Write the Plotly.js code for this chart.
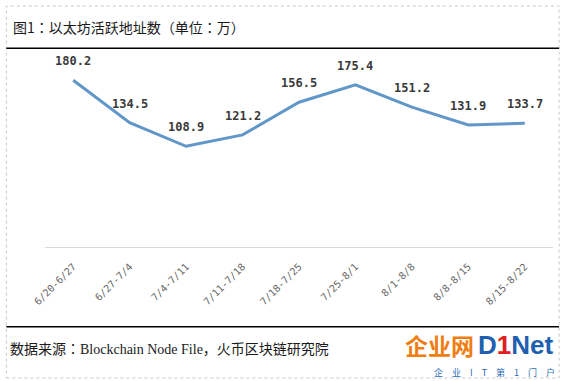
<!DOCTYPE html>
<html><head><meta charset="utf-8">
<script src="https://cdn.plot.ly/plotly-3.0.1.min.js"></script>
<style>html,body{margin:0;padding:0;background:#fff}#c{width:565px;height:381px}</style>
</head><body><div id="c"></div>
<script>
var categories = ["6/20-6/27","6/27-7/4","7/4-7/11","7/11-7/18","7/18-7/25","7/25-8/1","8/1-8/8","8/8-8/15","8/15-8/22"];
var values = [180.2, 134.5, 108.9, 121.2, 156.5, 175.4, 151.2, 131.9, 133.7];
var valueLabels = ["180.2","134.5","108.9","121.2","156.5","175.4","151.2","131.9","133.7"];

var trace = {
  x: categories, y: values, type: 'scatter', mode: 'lines',
  line: {color: '#6197c8', width: 3}, hoverinfo: 'none'
};

var anns = categories.map(function(c, i){
  return {x: c, y: values[i], xref: 'x', yref: 'y', text: valueLabels[i], showarrow: false,
    yshift: 19, font: {family: 'DejaVu Sans Mono, monospace', size: 12, color: '#3a3a3a', weight: 'bold'}};
});

var layout = {
  width: 565, height: 381,
  margin: {l: 45, r: 12, t: 62, b: 134},
  paper_bgcolor: '#fff', plot_bgcolor: '#fff',
  showlegend: false,
  xaxis: {type: 'category', range: [-0.5, 8.5], showgrid: false, zeroline: false, showline: true,
    linecolor: '#d9d9d9', linewidth: 1, ticks: '', tickangle: -45, ticklabelstandoff: 9,
    tickfont: {family: 'DejaVu Sans Mono, monospace', size: 10, color: '#666666'}, fixedrange: true},
  yaxis: {range: [0, 200], showgrid: false, zeroline: false, showticklabels: false, showline: false, fixedrange: true},
  shapes: [
    {type:'rect', xref:'paper', yref:'paper', x0:-0.0760, x1:1.0120, y0:-0.7080, y1:1.3027, line:{color:'#c8c8c8', width:1, dash:'dot'}},
    {type:'line', xref:'paper', yref:'paper', x0:-0.0760, x1:1.0120, y0:1.0745, y1:1.0745, line:{color:'#000', width:1.5}},
    {type:'line', xref:'paper', yref:'paper', x0:-0.0760, x1:1.0120, y0:-0.4313, y1:-0.4313, line:{color:'#000', width:1.5}}
  ],
  annotations: anns.concat([
    {xref:'paper', yref:'paper', x:-0.067, y:1.189, xanchor:'left', yanchor:'middle', showarrow:false,
     text:'图1：以太坊活跃地址数（单位：万）', font:{family:'Noto Sans CJK JP', size:14, color:'#1a1a1a'}},
    {xref:'paper', yref:'paper', x:-0.073, y:-0.551, xanchor:'left', yanchor:'middle', showarrow:false,
     text:'数据来源：Blockchain Node File，火币区块链研究院', font:{family:'Liberation Serif, Noto Sans CJK JP', size:14, color:'#1a1a1a'}},
    {xref:'paper', yref:'paper', x:0.705, y:-0.53, xanchor:'left', yanchor:'middle', showarrow:false,
     text:'<b>企业网</b>', font:{family:'Noto Sans CJK SC', size:23, color:'#f07d12'}},
    {xref:'paper', yref:'paper', x:0.848, y:-0.53, xanchor:'left', yanchor:'middle', showarrow:false,
     text:'<b>D<span style="color:#e02020">1</span>Net</b>', font:{family:'Liberation Sans', size:26, color:'#1f5fb0'}},
    {xref:'paper', yref:'paper', x:0.762, y:-0.676, xanchor:'left', yanchor:'middle', showarrow:false,
     text:'企　业　I　T　第　1　门　户', font:{family:'Noto Sans CJK SC', size:9, color:'#2a6bb8'}}
  ])
};
Plotly.newPlot('c', [trace], layout, {displayModeBar: false, staticPlot: true});
</script>
</body></html>
